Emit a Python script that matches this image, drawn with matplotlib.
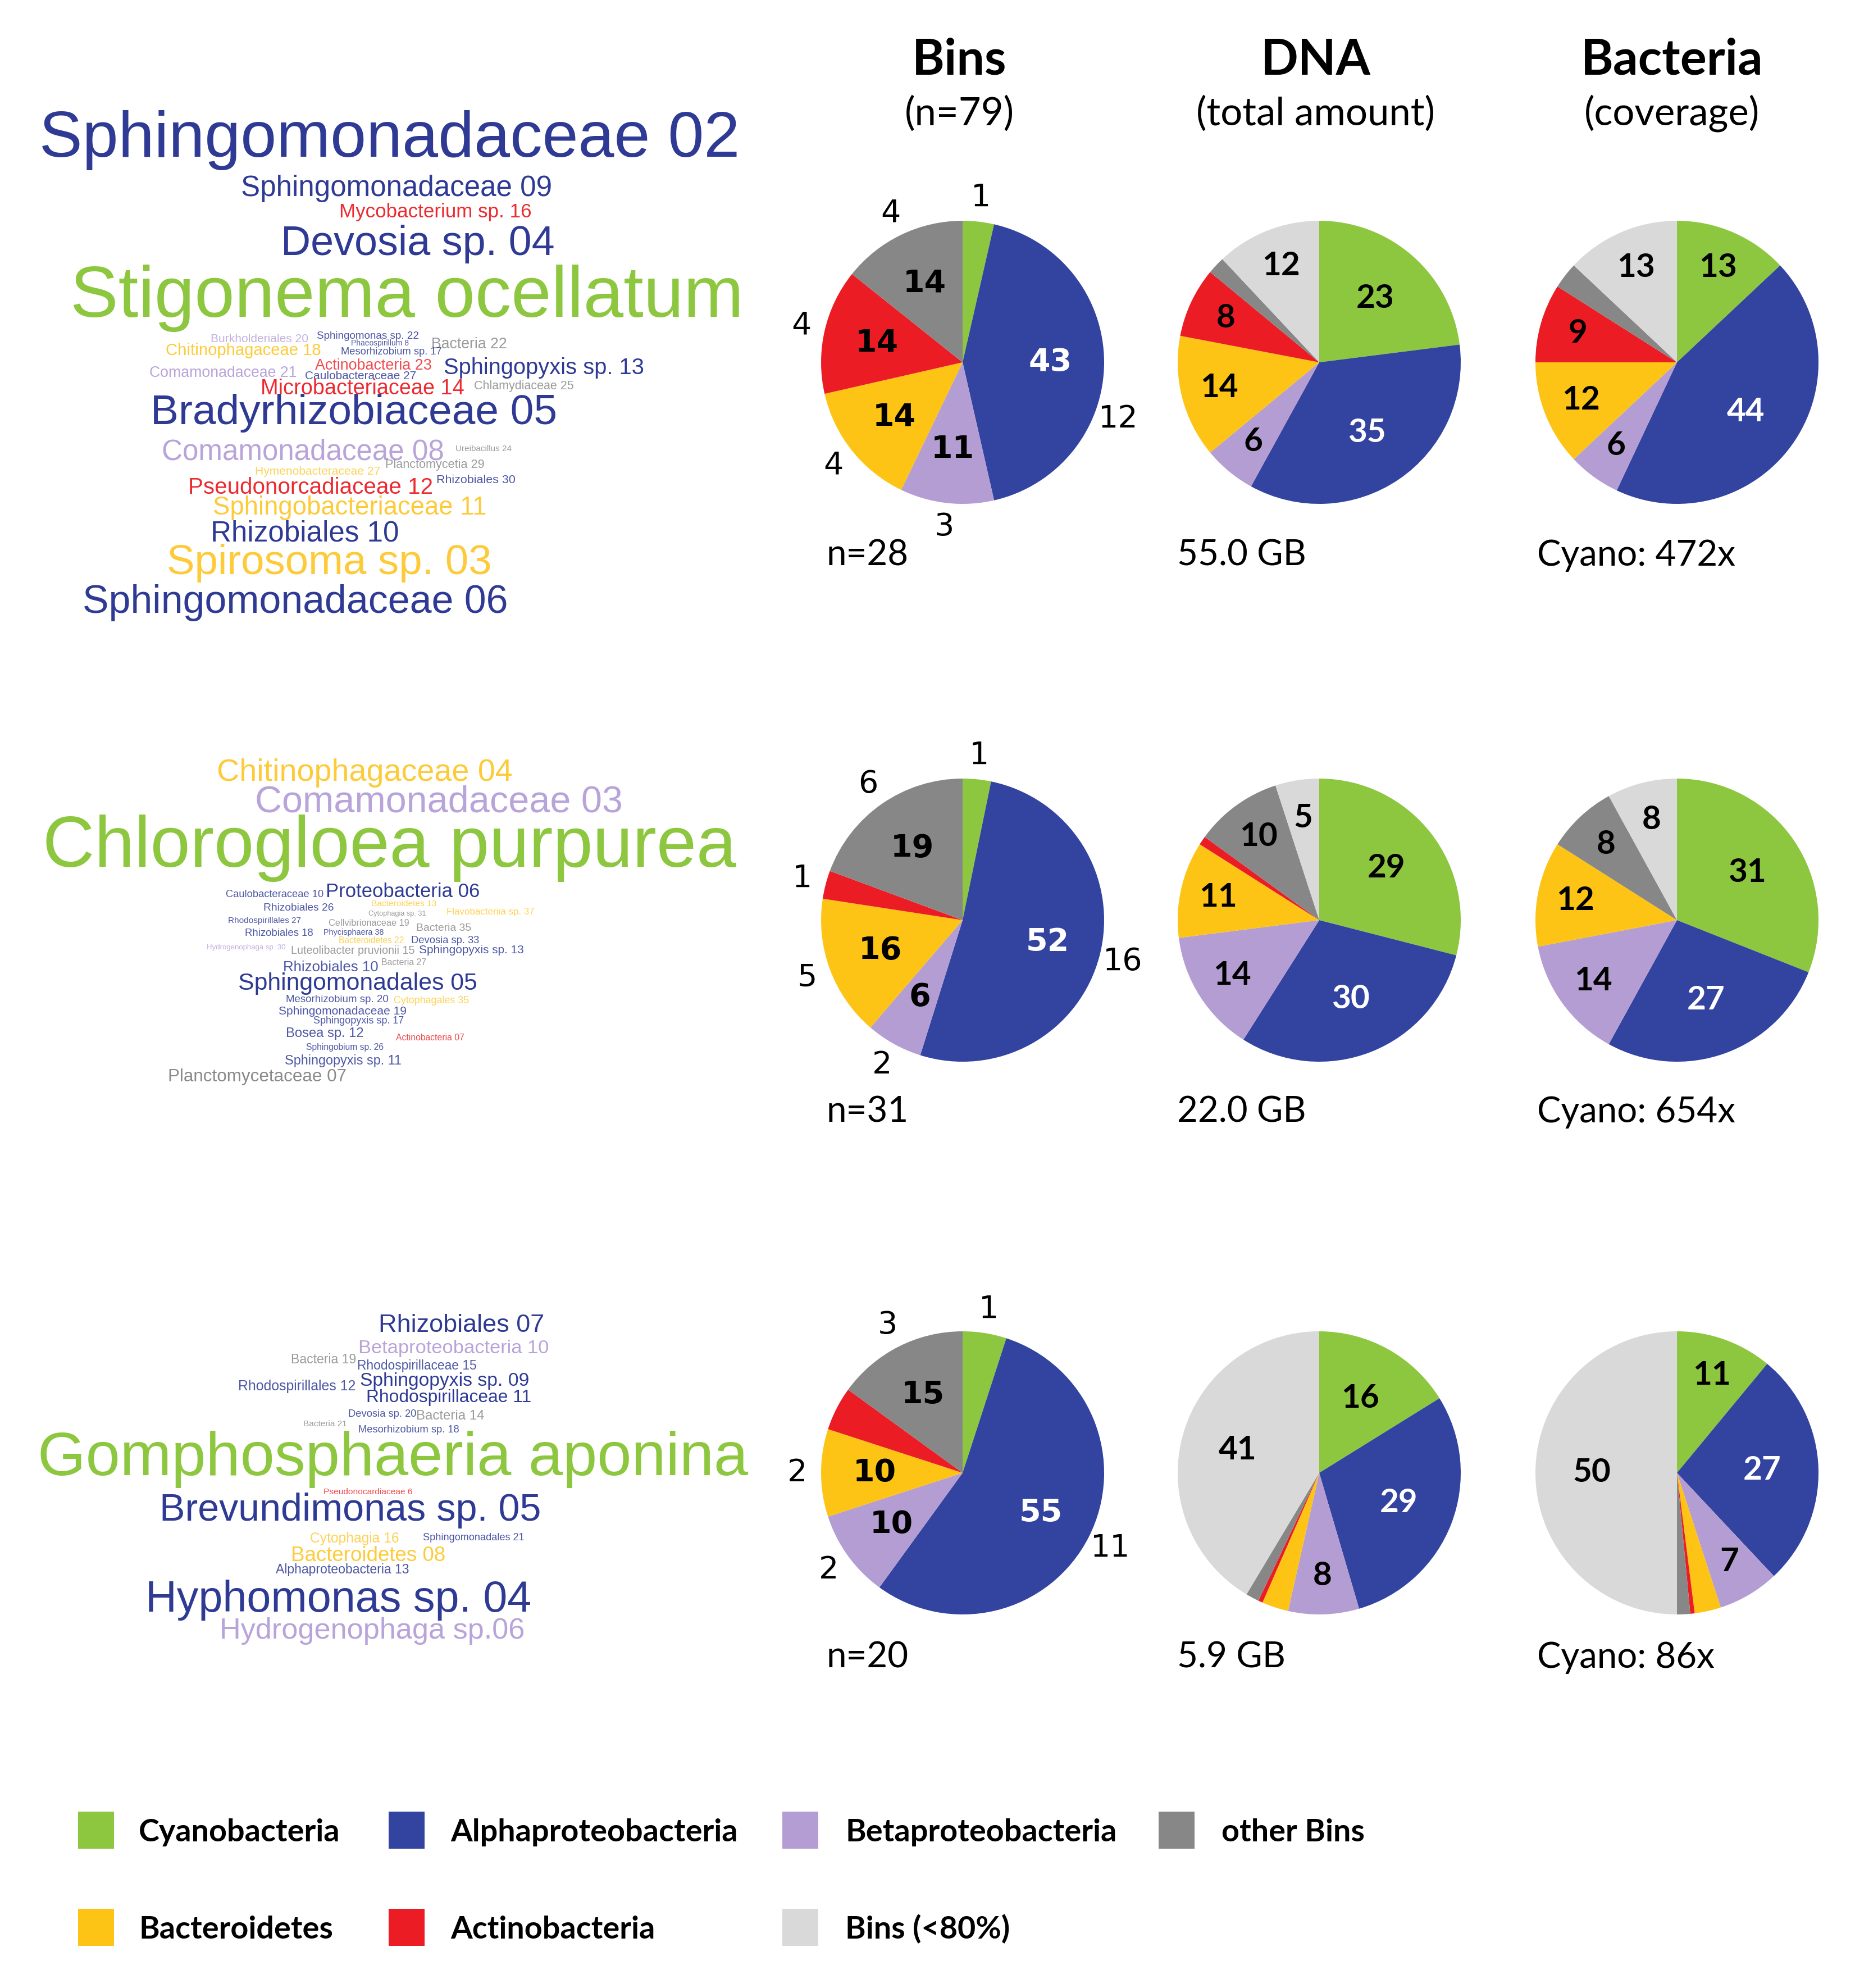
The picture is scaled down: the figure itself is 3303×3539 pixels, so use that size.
import numpy as np
import matplotlib
matplotlib.use("Agg")
import matplotlib.pyplot as plt
from matplotlib.patches import Rectangle

# ---------------- data ----------------
categories = ["Cyanobacteria", "Alphaproteobacteria", "Betaproteobacteria",
              "Bacteroidetes", "Actinobacteria", "other Bins", "Bins (<80%)"]
cat_colors = ["#8DC63F", "#3343A0", "#B49DD2", "#FDC315", "#EC1C24", "#878787", "#D9D9D9"]
cloud_colors = {"C": "#8DC63F", "A": "#2E3A94", "B": "#B9A4DA", "D": "#FDCB3A",
                "X": "#EC2A2F", "O": "#8A8A8A"}

column_titles = ["Bins", "DNA", "Bacteria"]
column_subtitles = ["(n=79)", "(total amount)", "(coverage)"]

# Bins column (number of bins per group)
bins_counts = [
    [1, 12, 3, 4, 4, 4, 0],
    [1, 16, 2, 5, 1, 6, 0],
    [1, 11, 2, 2, 1, 3, 0],
]
bins_pct_labels = [
    ["", "43", "11", "14", "14", "14", ""],
    ["", "52", "6", "16", "", "19", ""],
    ["", "55", "10", "10", "", "15", ""],
]
bins_count_labels = [
    ["1", "12", "3", "4", "4", "4", ""],
    ["1", "16", "2", "5", "1", "6", ""],
    ["1", "11", "2", "2", "", "3", ""],
]
bins_n = ["n=28", "n=31", "n=20"]

# DNA column (% of total amount)
dna_pct = [
    [23, 35, 6, 14, 8, 2, 12],
    [29, 30, 14, 11, 1, 10, 5],
    [16, 29, 8, 3, 0.5, 1.5, 41],
]
dna_labels = [
    ["23", "35", "6", "14", "8", "", "12"],
    ["29", "30", "14", "11", "", "10", "5"],
    ["16", "29", "8", "", "", "", "41"],
]
dna_total = ["55.0 GB", "22.0 GB", "5.9 GB"]

# Bacteria column (% coverage)
bac_pct = [
    [13, 44, 6, 12, 9, 3, 13],
    [31, 27, 14, 12, 0, 8, 8],
    [11, 27, 7, 3, 0.5, 1.5, 50],
]
bac_labels = [
    ["13", "44", "6", "12", "9", "", "13"],
    ["31", "27", "14", "12", "", "8", "8"],
    ["11", "27", "7", "", "", "", "50"],
]
cyano_cov = ["Cyano: 472x", "Cyano: 654x", "Cyano: 86x"]

# Word clouds: words and their group
cloud1_words = ["Sphingomonadaceae 02", "Sphingomonadaceae 09", "Mycobacterium sp. 16", "Devosia sp. 04",
                "Stigonema ocellatum", "Burkholderiales 20", "Sphingomonas sp. 22", "Phaeospirillum 8",
                "Bacteria 22", "Chitinophagaceae 18", "Mesorhizobium sp. 17", "Actinobacteria 23",
                "Sphingopyxis sp. 13", "Comamonadaceae 21", "Caulobacteraceae 27", "Microbacteriaceae 14",
                "Chlamydiaceae 25", "Bradyrhizobiaceae 05", "Comamonadaceae 08", "Ureibacillus 24",
                "Hymenobacteraceae 27", "Planctomycetia 29", "Rhizobiales 30", "Pseudonorcadiaceae 12",
                "Sphingobacteriaceae 11", "Rhizobiales 10", "Spirosoma sp. 03", "Sphingomonadaceae 06"]
cloud1_groups = ["A", "A", "X", "A", "C", "B", "A", "A", "O", "D", "A", "X", "A", "B", "A", "X",
                 "O", "A", "B", "O", "D", "O", "A", "X", "D", "A", "D", "A"]

cloud2_words = ["Chitinophagaceae 04", "Comamonadaceae 03", "Chlorogloea purpurea", "Caulobacteraceae 10",
                "Proteobacteria 06", "Rhizobiales 26", "Bacteroidetes 13", "Cytophagia sp. 31",
                "Flavobacteriia sp. 37", "Rhodospirillales 27", "Cellvibrionaceae 19", "Bacteria 35",
                "Rhizobiales 18", "Phycisphaera 38", "Bacteroidetes 22", "Devosia sp. 33",
                "Hydrogenophaga sp. 30", "Luteolibacter pruvionii 15", "Sphingopyxis sp. 13", "Rhizobiales 10",
                "Bacteria 27", "Sphingomonadales 05", "Mesorhizobium sp. 20", "Cytophagales 35",
                "Sphingomonadaceae 19", "Sphingopyxis sp. 17", "Bosea sp. 12", "Actinobacteria 07",
                "Sphingobium sp. 26", "Sphingopyxis sp. 11", "Planctomycetaceae 07"]
cloud2_groups = ["D", "B", "C", "A", "A", "A", "D", "O", "D", "A", "O", "O", "A", "A", "D", "A",
                 "B", "O", "A", "A", "O", "A", "A", "D", "A", "A", "A", "X", "A", "A", "O"]

cloud3_words = ["Rhizobiales 07", "Betaproteobacteria 10", "Bacteria 19", "Rhodospirillaceae 15",
                "Sphingopyxis sp. 09", "Rhodospirillales 12", "Rhodospirillaceae 11", "Devosia sp. 20",
                "Bacteria 14", "Bacteria 21", "Mesorhizobium sp. 18", "Gomphosphaeria aponina",
                "Pseudonocardiaceae 6", "Brevundimonas sp. 05", "Cytophagia 16", "Sphingomonadales 21",
                "Bacteroidetes 08", "Alphaproteobacteria 13", "Hyphomonas sp. 04", "Hydrogenophaga sp.06"]
cloud3_groups = ["A", "B", "O", "A", "A", "A", "A", "A", "O", "O", "A", "C", "X", "A", "D", "A",
                 "D", "A", "A", "B"]

# ---------------- layout (pixels) ----------------
# (x_left, x_right, y_center) for each cloud word
cloud1_layout = [(70, 1313, 238), (429, 982, 331), (604, 946, 374), (500, 987, 428),
                 (125, 1321, 518), (375, 549, 601), (564, 746, 596), (625, 728, 610),
                 (768, 902, 610), (295, 571, 622), (607, 786, 624), (561, 768, 648),
                 (790, 1147, 652), (266, 527, 661), (543, 741, 668), (464, 826, 688),
                 (844, 1022, 685), (268, 991, 728), (288, 790, 800), (811, 911, 798),
                 (454, 676, 837), (686, 862, 825), (777, 918, 852), (335, 770, 865),
                 (379, 866, 900), (375, 710, 945), (297, 875, 995), (147, 902, 1066)]
cloud2_layout = [(386, 911, 1370), (454, 1107, 1422), (76, 1308, 1497), (402, 576, 1590),
                 (580, 853, 1585), (469, 594, 1614), (661, 777, 1607), (656, 759, 1625),
                 (795, 951, 1622), (406, 536, 1637), (585, 728, 1642), (741, 839, 1650),
                 (436, 558, 1659), (576, 683, 1659), (603, 719, 1673), (732, 853, 1672),
                 (368, 509, 1685), (518, 737, 1691), (746, 933, 1690), (504, 674, 1720),
                 (679, 759, 1712), (424, 848, 1747), (509, 692, 1777), (701, 835, 1780),
                 (496, 723, 1798), (558, 719, 1816), (509, 647, 1838), (705, 826, 1846),
                 (545, 683, 1863), (507, 714, 1887), (299, 616, 1914)]
cloud3_layout = [(674, 969, 2355), (638, 975, 2397), (518, 634, 2419), (636, 848, 2430),
                 (641, 942, 2455), (424, 634, 2466), (652, 946, 2485), (620, 741, 2515),
                 (741, 862, 2518), (540, 618, 2533), (638, 817, 2543), (67, 1330, 2587),
                 (576, 734, 2654), (284, 962, 2683), (552, 710, 2737), (753, 933, 2736),
                 (518, 793, 2766), (491, 728, 2793), (259, 945, 2841), (391, 933, 2898)]

# small angular nudges (degrees, clockwise) for individual outside labels: (row, slice) -> offset
outside_nudge = {(0, 1): 20}

W, H = 3303, 3539
col_x = [1714, 2349, 2986]
row_y = [645, 1638, 2622]
R = 252

fig = plt.figure(figsize=(W / 100, H / 100), dpi=100)
fig.patch.set_facecolor("white")
bg = fig.add_axes([0, 0, 1, 1])
bg.set_xlim(0, W)
bg.set_ylim(H, 0)
bg.axis("off")
renderer = fig.canvas.get_renderer()

PX = 100 / 72.0  # px per point


def measure(s, family, weight, fs=20):
    t = bg.text(0, 0, s, fontsize=fs, family=family, weight=weight)
    w = t.get_window_extent(renderer).width
    t.remove()
    return w / fs


def fit_text(x0, x1, yc, s, color, family, weight="normal", cap=0.716, alpha=1.0):
    fs = (x1 - x0) / measure(s, family, weight)
    bg.text(x0, yc + cap * 0.5 * fs * PX, s, fontsize=fs, family=family, weight=weight,
            color=color, ha="left", va="baseline", alpha=alpha)


def put_text(x, yc, s, fs, family, weight="normal", ha="left", cap=0.72, color="black"):
    bg.text(x, yc + cap * 0.5 * fs * PX, s, fontsize=fs, family=family, weight=weight,
            color=color, ha=ha, va="baseline")


# word clouds
for words, groups, layout in [(cloud1_words, cloud1_groups, cloud1_layout),
                              (cloud2_words, cloud2_groups, cloud2_layout),
                              (cloud3_words, cloud3_groups, cloud3_layout)]:
    for w, g, (x0, x1, yc) in zip(words, groups, layout):
        small = (x1 - x0) < 260 and g != "C"
        fit_text(x0, x1, yc, w, cloud_colors[g], "Liberation Sans",
                 alpha=0.85 if small else 1.0)

# headers
fs_title = 324 / measure("Bacteria", "Lato", "bold")
fs_sub = 425 / measure("(total amount)", "Lato", "normal")
for cx, t, st in zip([1708, 2343, 2977], column_titles, column_subtitles):
    put_text(cx, 101, t, fs_title, "Lato", "bold", ha="center")
    put_text(cx, 198, st, fs_sub, "Lato", "normal", ha="center")

# under-pie labels
fs_under = 353 / measure("Cyano: 472x", "Lato", "normal")
for i in range(3):
    y = [984, 1975, 2946][i]
    put_text(1472, y, bins_n[i], fs_under, "Lato")
    put_text(2096, y, dna_total[i], fs_under, "Lato")
    put_text(2737, y, cyano_cov[i], fs_under, "Lato")


def pie_axes(cx, cy, r):
    half = 1.25 * r
    ax = fig.add_axes([(cx - half) / W, 1 - (cy + half) / H, 2 * half / W, 2 * half / H])
    return ax


def draw_pie(row, cx, cy, values, inner, outer, family, fs_in, fs_out):
    ax = pie_axes(cx, cy, R)
    wedges, _ = ax.pie(values, colors=cat_colors, startangle=90, counterclock=False,
                       radius=1, wedgeprops=dict(linewidth=0))
    ax.set_xlim(-1.25, 1.25)
    ax.set_ylim(-1.25, 1.25)
    ax.set_aspect("equal")
    ax.axis("off")
    total = float(sum(values))
    for k, w in enumerate(wedges):
        mid = (w.theta1 + w.theta2) / 2.0
        ang = np.deg2rad(mid)
        frac = values[k] / total
        if inner[k]:
            if outer is not None:
                d = 0.62
            else:
                d = 0.6 if frac >= 0.15 else 0.73
            col = "white" if k == 1 else "black"
            ax.text(d * np.cos(ang), d * np.sin(ang), inner[k], ha="center", va="center",
                    fontsize=fs_in, family=family, weight="bold", color=col)
        if outer is not None and outer[k]:
            d = 1.17
            a2 = np.deg2rad(mid - outside_nudge.get((row, k), 0))
            ax.text(d * np.cos(a2), d * np.sin(a2), outer[k], ha="center", va="center",
                    fontsize=fs_out, family=family, color="black")


for i in range(3):
    draw_pie(i, col_x[0], row_y[i], bins_counts[i], bins_pct_labels[i], bins_count_labels[i],
             "DejaVu Sans", 40, 40)
    draw_pie(i, col_x[1], row_y[i], dna_pct[i], dna_labels[i], None, "Lato", 42, 42)
    draw_pie(i, col_x[2], row_y[i], bac_pct[i], bac_labels[i], None, "Lato", 42, 42)

# legend
fs_leg = 512 / measure("Alphaproteobacteria", "Lato", "bold")
leg_pos = [(139, 247, 3258), (692, 802, 3258), (1393, 1505, 3258), (2063, 2175, 3258),
           (139, 247, 3431), (692, 802, 3431), (1393, 1505, 3431)]
leg_order = [0, 1, 2, 5, 3, 4, 6]
for (sx, tx, y), k in zip(leg_pos, leg_order):
    bg.add_patch(Rectangle((sx, y - 33), 64, 66, facecolor=cat_colors[k], edgecolor="none"))
    put_text(tx, y, categories[k], fs_leg, "Lato", "bold")

fig.savefig("out.png", dpi=100, facecolor="white")
